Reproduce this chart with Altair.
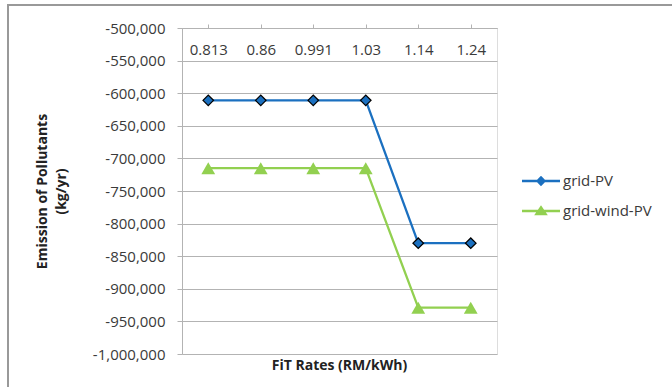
import altair as alt
import pandas as pd

# FiT rate categories and annual pollutant emissions per system
rates = ["0.813", "0.86", "0.991", "1.03", "1.14", "1.24"]
grid_pv = [-611000, -611000, -611000, -611000, -830000, -830000]
grid_wind_pv = [-715000, -715000, -715000, -715000, -929000, -929000]

series_names = ["grid-PV", "grid-wind-PV"]
series_colors = ["#1b70c0", "#92d050"]

df = pd.DataFrame(
    {
        "rate": rates * 2,
        "emission": grid_pv + grid_wind_pv,
        "series": [series_names[0]] * len(rates) + [series_names[1]] * len(rates),
    }
)

FONT = "Open Sans"
TEXT = "#3a3a3a"
GRID = "#b3b3b3"
LABEL_SIZE = 15

x_enc = alt.X(
    "rate:N",
    sort=rates,
    scale=alt.Scale(type="point", padding=0.5),
    axis=alt.Axis(
        orient="top",
        title=None,
        labelAngle=0,
        labelBaseline="middle",
        labelPadding=-25,
        tickSize=4,
        tickColor=GRID,
        domainColor=GRID,
        labelFontSize=LABEL_SIZE,
        labelColor=TEXT,
        labelFont=FONT,
        grid=False,
    ),
)
y_enc = alt.Y(
    "emission:Q",
    scale=alt.Scale(domain=[-1000000, -500000], nice=False, zero=False),
    axis=alt.Axis(
        values=list(range(-1000000, -499999, 50000)),
        labelExpr="replace(format(datum.value, ',.0f'), '\u2212', '-')",
        title=["Emission of Pollutants", "(kg/yr)"],
        titleFont=FONT,
        titleFontSize=14,
        titleFontWeight="bold",
        titleColor="#222222",
        titleAngle=-90,
        titleAlign="center",
        titleBaseline="middle",
        titleX=-140,
        titleY=163,
        titleLineHeight=19,
        tickSize=5,
        tickColor=GRID,
        domainColor=GRID,
        gridColor=GRID,
        labelPadding=12,
        labelFontSize=LABEL_SIZE,
        labelColor=TEXT,
        labelFont=FONT,
    ),
)

color_scale = alt.Scale(domain=series_names, range=series_colors)

lines = alt.Chart(df).mark_line(strokeWidth=2.3).encode(
    x=x_enc,
    y=y_enc,
    color=alt.Color("series:N", scale=color_scale, legend=None),
)

pv_points = (
    alt.Chart(df)
    .transform_filter(alt.datum.series == series_names[0])
    .mark_point(shape="diamond", filled=True, size=110, fill=series_colors[0],
                stroke="#000000", strokeWidth=1.3, opacity=1)
    .encode(x=x_enc, y=y_enc)
)

wind_points = (
    alt.Chart(df)
    .transform_filter(alt.datum.series == series_names[1])
    .mark_point(shape="triangle-up", filled=True, size=190, fill=series_colors[1],
                strokeWidth=0, opacity=1)
    .encode(x=x_enc, y=y_enc)
)

# legend symbols: a thin bar (the line) through each series marker
legend_shapes = [
    "M-1,-0.06L1,-0.06L1,0.06L-1,0.06ZM0,-0.27L0.27,0L0,0.27L-0.27,0Z",
    "M-1,-0.06L1,-0.06L1,0.06L-1,0.06ZM0,-0.3L0.36,0.23L-0.36,0.23Z",
]
legend_y = [134, 164]


def legend_entry(i):
    name = series_names[i]
    return (
        alt.Chart(df)
        .transform_filter("false")
        .mark_point(filled=True, opacity=1, fill=series_colors[i],
                    stroke=series_colors[i], strokeWidth=0)
        .encode(
            x=x_enc,
            y=y_enc,
            shape=alt.Shape(
                "series:N",
                scale=alt.Scale(domain=[name], range=[legend_shapes[i]]),
                legend=alt.Legend(
                    title=None,
                    orient="none",
                    legendX=340,
                    legendY=legend_y[i],
                    symbolSize=1444,
                    symbolStrokeWidth=0,
                    symbolFillColor=series_colors[i],
                    labelFont=FONT,
                    labelFontSize=LABEL_SIZE,
                    labelColor=TEXT,
                    labelOffset=3,
                ),
            ),
        )
    )


# outer chart frame along the top and left edges, plus the category-axis title
frame_data = alt.Data(values=[{"k": 1}])
frame_left = alt.Chart(frame_data).mark_rule(color="#999999", strokeWidth=2).encode(
    x=alt.value(-174), y=alt.value(-23), y2=alt.value(359)
)
frame_top = alt.Chart(frame_data).mark_rule(color="#999999", strokeWidth=2).encode(
    x=alt.value(-175), x2=alt.value(490), y=alt.value(-23)
)
x_title = alt.Chart(frame_data).mark_text(
    text="FiT Rates (RM/kWh)",
    font=FONT,
    fontSize=14,
    fontWeight="bold",
    color="#222222",
    align="center",
    baseline="middle",
).encode(x=alt.value(157.5), y=alt.value(338))

chart = (
    alt.layer(frame_left, frame_top, lines, pv_points, wind_points,
              legend_entry(0), legend_entry(1), x_title)
    .resolve_scale(shape="independent")
    .resolve_legend(shape="independent")
    .properties(
        width=315,
        height=326,
        autosize="none",
        padding={"left": 182, "top": 28, "right": 175, "bottom": 33},
    )
    .configure_view(stroke=None)
    .configure(background="white")
)

chart.save("out.html", embed_options={"renderer": "svg", "actions": False})
